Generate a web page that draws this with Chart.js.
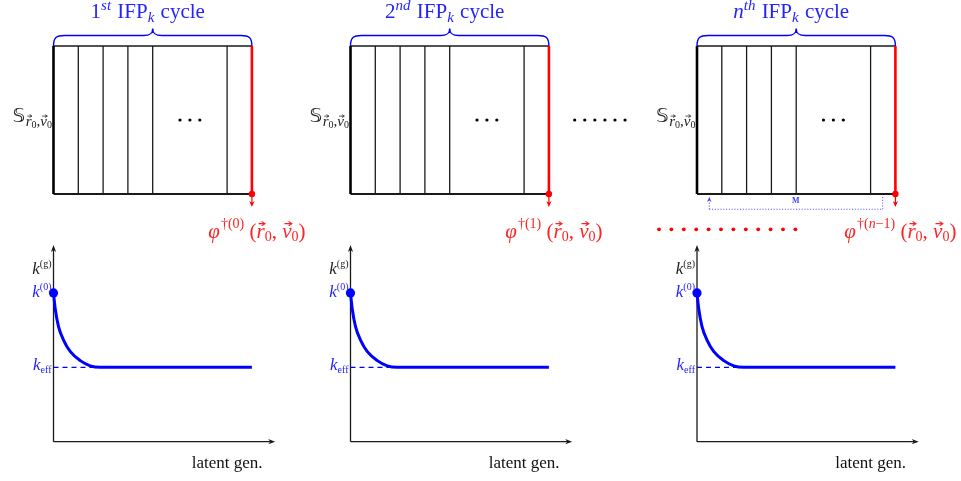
<!DOCTYPE html>
<html>
<head>
<meta charset="utf-8">
<script src="https://cdn.jsdelivr.net/npm/chart.js@4.4.1/dist/chart.umd.min.js"></script>
<style>
  html, body { margin: 0; padding: 0; background: #fff; }
  canvas { display: block; }
</style>
</head>
<body>
<canvas id="c" width="961" height="481"></canvas>
<script>
// ---------------- data ----------------
// IFP_k cycles shown side by side
const cycleOrdinal = ['1', '2', 'n'];
const cycleSuffix  = ['st', 'nd', 'th'];
const fissionIndex = ['0', '1', 'n\u22121'];

// batch boundaries inside one cycle, in latent generations
const batchEdges  = [0, 5, 10, 15, 20, 35, 40];
const ellipsisGen = [25.5, 27.5, 29.5];

// k^(g) against latent generation within one cycle
const latentGen = [0, 0.34, 1.0, 2.0, 3.4, 5.4, 7.4, 9.4, 40];
const kValues   = [2.0, 1.79, 1.55, 1.37, 1.21, 1.09, 1.02, 1.0, 1.0];
const kInit = kValues[0];
const kEff  = kValues[kValues.length - 1];
const kConvergeGen = latentGen[kValues.indexOf(kEff)];

// ---------------- layout ----------------
const W = 961, H = 481;
const panelLeft = [53.5, 350.5, 697];
const PX_GEN = 4.96;
const kBaseY = 441.7, PX_K = 74.4;
const boxBaseY = 194, PX_BOX = 148;
const kAxisTop = 2.644, genAxisEnd = 44.7;
const cycleLen = batchEdges[batchEdges.length - 1];

const INK = '#1a1a1a';
const BLUE = '#0000ff';
const BLUE_TXT = 'rgb(35,35,255)';
const RED = '#ff0000';
const RED_TXT = 'rgb(255,35,35)';
const SERIF = '"Liberation Serif", "DejaVu Serif", serif';

// ---------------- scales ----------------
const scales = {
  x: { type: 'linear', display: false },
  y: { type: 'linear', display: false },
  yk: { type: 'linear', axis: 'y', display: false,
        min: (kBaseY - H) / PX_K, max: kBaseY / PX_K },
  yb: { type: 'linear', axis: 'y', display: false,
        min: (boxBaseY - H) / PX_BOX, max: boxBaseY / PX_BOX }
};
panelLeft.forEach((left, p) => {
  scales['x' + p] = { type: 'linear', axis: 'x', display: false,
                      min: -left / PX_GEN, max: (W - left) / PX_GEN };
});

// ---------------- datasets ----------------
const datasets = [];
function add(p, yId, pts, opts) {
  datasets.push(Object.assign({
    data: pts.map(([x, y]) => ({ x, y })),
    xAxisID: 'x' + p, yAxisID: yId,
    showLine: true, fill: false, tension: 0,
    pointRadius: 0, borderWidth: 1.3, borderColor: INK,
    order: -datasets.length
  }, opts || {}));
}
function dots(p, yId, pts, color, r) {
  add(p, yId, pts, { showLine: false, pointRadius: r, pointBorderWidth: 0,
                     pointBackgroundColor: color, borderColor: color });
}

panelLeft.forEach((_, p) => {
  // sampling box of the cycle
  add(p, 'yb', [[0, 1], [cycleLen, 1]], { borderWidth: 1.4 });
  batchEdges.slice(1, -1).forEach(e => add(p, 'yb', [[e, 0], [e, 1]], { borderWidth: 1.3 }));
  add(p, 'yb', [[0, 0], [cycleLen, 0]], { borderWidth: 2 });
  add(p, 'yb', [[0, 0], [0, 1]], { borderWidth: 2.6, borderColor: '#000' });
  add(p, 'yb', [[cycleLen, 0], [cycleLen, 1]], { borderWidth: 2.6, borderColor: RED });
  add(p, 'yb', [[cycleLen, 0], [cycleLen, -0.07]], { borderWidth: 1.2, borderColor: RED });
  dots(p, 'yb', [[cycleLen, 0]], RED, 3.2);
  dots(p, 'yb', ellipsisGen.map(g => [g, 0.5]), '#000', 1.6);

  // k^(g) plot
  add(p, 'yk', [[0, 0], [0, kAxisTop - 0.04]], { borderWidth: 1.3 });
  add(p, 'yk', [[0, 0], [genAxisEnd - 0.8, 0]], { borderWidth: 1.3 });
  add(p, 'yk', [[0, kEff], [kConvergeGen, kEff]],
      { borderWidth: 1.2, borderColor: BLUE, borderDash: [5, 4] });
  add(p, 'yk', latentGen.map((g, i) => [g, kValues[i]]),
      { borderWidth: 3, borderColor: BLUE, cubicInterpolationMode: 'monotone',
        borderCapStyle: 'butt' });
  dots(p, 'yk', [[0, kInit]], BLUE, 4.6);
});

// continuation marks between cycles
dots(1, 'yb', [0, 1, 2, 3, 4, 5].map(i => [45.2 + 2.03 * i, 0.5]), '#000', 1.6);
dots(2, 'yk', Array.from({ length: 12 }, (_, i) => [-7.66 + 2.5 * i, 2.855]), RED, 1.9);

// M bracket under the last cycle
const MLEFT = 2.48, MRIGHT = 37.44, MY = -0.103;
const dotted = { borderWidth: 1, borderColor: 'rgb(70,70,255)', borderDash: [1, 1.8] };
add(2, 'yb', [[MLEFT, MY], [MRIGHT, MY]], dotted);
add(2, 'yb', [[MRIGHT, MY], [MRIGHT, -0.02]], dotted);
add(2, 'yb', [[MLEFT, MY], [MLEFT, -0.05]], dotted);

// ---------------- text helpers ----------------
function font(r) {
  return (r.b ? 'bold ' : '') + (r.it ? 'italic ' : '') + r.size + 'px ' + (r.family || SERIF);
}
function rich(ctx, runs, x, y, align, color) {
  let w = 0;
  runs.forEach(r => { ctx.font = font(r); r.w = ctx.measureText(r.t).width + (r.kern || 0); w += r.w; });
  let cx = align === 'center' ? x - w / 2 : align === 'right' ? x - w : x;
  ctx.textAlign = 'left';
  ctx.textBaseline = 'alphabetic';
  runs.forEach(r => {
    ctx.font = font(r);
    ctx.fillStyle = r.color || color;
    const by = y + (r.dy || 0);
    ctx.fillText(r.t, cx, by);
    if (r.vec) {
      const ay = by - r.size * 0.66;
      const x0 = cx + r.w * 0.25, x1 = cx + r.w * 1.05;
      ctx.strokeStyle = r.color || color;
      ctx.lineWidth = Math.max(0.7, r.size * 0.05);
      ctx.beginPath();
      ctx.moveTo(x0, ay); ctx.lineTo(x1, ay);
      ctx.moveTo(x1 - r.size * 0.16, ay - r.size * 0.1); ctx.lineTo(x1, ay);
      ctx.lineTo(x1 - r.size * 0.16, ay + r.size * 0.1);
      ctx.stroke();
    }
    cx += r.w;
  });
}
function arrowHead(ctx, x, y, ang, len, half, color) {
  ctx.save();
  ctx.translate(x, y);
  ctx.rotate(ang);
  ctx.fillStyle = color;
  ctx.beginPath();
  ctx.moveTo(0, 0);
  ctx.lineTo(-len, -half);
  ctx.lineTo(-len * 0.7, 0);
  ctx.lineTo(-len, half);
  ctx.closePath();
  ctx.fill();
  ctx.restore();
}
function brace(ctx, L, R, yBase, yBar, yTip, color) {
  const M = (L + R) / 2;
  ctx.strokeStyle = color;
  ctx.lineWidth = 1.4;
  ctx.beginPath();
  ctx.moveTo(L, yBase);
  ctx.bezierCurveTo(L, yBar + 2, L + 3, yBar, L + 11, yBar);
  ctx.lineTo(M - 9, yBar);
  ctx.bezierCurveTo(M - 3, yBar, M, yBar - 1.5, M, yTip);
  ctx.bezierCurveTo(M, yBar - 1.5, M + 3, yBar, M + 9, yBar);
  ctx.lineTo(R - 11, yBar);
  ctx.bezierCurveTo(R - 3, yBar, R, yBar + 2, R, yBase);
  ctx.stroke();
}

// ---------------- annotation plugin ----------------
const diagramText = {
  id: 'diagramText',
  afterDatasetsDraw(chart) {
    const ctx = chart.ctx;
    const yk = chart.scales.yk, yb = chart.scales.yb;
    ctx.save();
    panelLeft.forEach((_, p) => {
      const xs = chart.scales['x' + p];
      const L = xs.getPixelForValue(0), R = xs.getPixelForValue(cycleLen);
      const top = yb.getPixelForValue(1), bot = yb.getPixelForValue(0);

      // brace and title
      brace(ctx, L, R, top, 35.5, 28.5, BLUE);
      rich(ctx, [
        { t: cycleOrdinal[p], size: 21, it: p === 2 },
        { t: cycleSuffix[p], size: 15, it: true, dy: -8, kern: 1 },
        { t: ' IFP', size: 21 },
        { t: 'k', size: 15, it: true, dy: 4, kern: 1 },
        { t: ' cycle', size: 21 }
      ], (L + R) / 2 - 5, 18, 'center', BLUE_TXT);

      // state label left of the box
      rich(ctx, [
        { t: '\u{1D54A}', size: 20, family: '"DejaVu Sans", "DejaVu Serif", sans-serif', kern: 0.5 },
        { t: 'r', size: 15, it: true, vec: true, dy: 4 },
        { t: '0', size: 10, dy: 6 },
        { t: ',', size: 15, dy: 4 },
        { t: 'v', size: 15, it: true, vec: true, dy: 4 },
        { t: '0', size: 10, dy: 6 }
      ], L - 1.5, (top + bot) / 2 + 2, 'right', '#222');

      // red arrow and fission source label
      arrowHead(ctx, R, yb.getPixelForValue(-0.087), Math.PI / 2, 6, 2.6, RED);
      const idx = fissionIndex[p];
      const supRuns = [{ t: '\u2020(', size: 14, dy: -10 }];
      idx.split(/(n)/).filter(s => s).forEach(s =>
        supRuns.push({ t: s, size: 14, it: s === 'n', dy: -10 }));
      supRuns.push({ t: ')', size: 14, dy: -10 });
      rich(ctx, [
        { t: '\u03C6', size: 21, it: true, kern: 1 },
        ...supRuns,
        { t: ' (', size: 21 },
        { t: 'r', size: 21, it: true, vec: true },
        { t: '0', size: 14, dy: 3 },
        { t: ', ', size: 21 },
        { t: 'v', size: 21, it: true, vec: true },
        { t: '0', size: 14, dy: 3 },
        { t: ')', size: 21 }
      ], R + 5, 237.5, 'center', RED_TXT);

      // axes arrows of the k plot
      const ox = xs.getPixelForValue(0), oy = yk.getPixelForValue(0);
      arrowHead(ctx, ox, yk.getPixelForValue(kAxisTop), -Math.PI / 2, 7, 2.6, INK);
      arrowHead(ctx, xs.getPixelForValue(genAxisEnd), oy, 0, 7, 2.6, INK);

      // k labels
      rich(ctx, [{ t: 'k', size: 17, it: true }, { t: '(g)', size: 10, dy: -7 }],
           ox - 2, 273.5, 'right', '#222');
      rich(ctx, [{ t: 'k', size: 17, it: true }, { t: '(0)', size: 10, dy: -7 }],
           ox - 2, yk.getPixelForValue(kInit) + 4.5, 'right', BLUE_TXT);
      rich(ctx, [{ t: 'k', size: 17, it: true }, { t: 'eff', size: 10, dy: 3 }],
           ox - 2, yk.getPixelForValue(kEff) + 3, 'right', BLUE_TXT);

      rich(ctx, [{ t: 'latent gen.', size: 17 }], ox + 209, 468, 'right', '#111');
    });

    // M bracket head and label
    const x2 = chart.scales.x2;
    arrowHead(ctx, x2.getPixelForValue(MLEFT), yb.getPixelForValue(-0.02),
              -Math.PI / 2, 5, 2.2, 'rgb(60,60,255)');
    rich(ctx, [{ t: 'M', size: 8, b: true }], x2.getPixelForValue(19.9), 203, 'center', 'rgb(60,60,255)');
    ctx.restore();
  }
};

new Chart(document.getElementById('c'), {
  type: 'scatter',
  data: { datasets },
  options: {
    responsive: false,
    animation: false,
    events: [],
    layout: { padding: 0, autoPadding: false },
    scales,
    plugins: { legend: { display: false }, tooltip: { enabled: false } }
  },
  plugins: [diagramText]
});
</script>
</body>
</html>
